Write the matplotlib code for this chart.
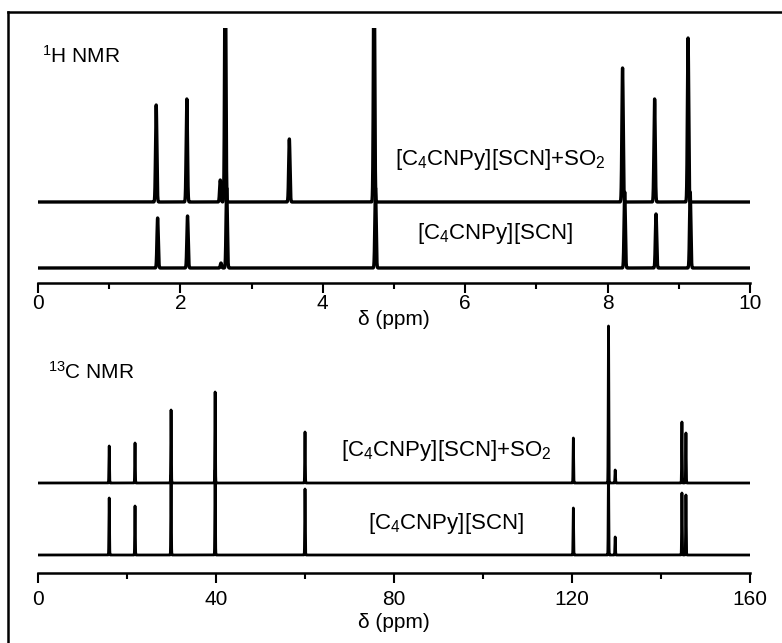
import matplotlib
matplotlib.use("Agg")
import matplotlib.pyplot as plt
from matplotlib.lines import Line2D
import numpy as np

plt.rcParams['font.family'] = ['Liberation Sans', 'DejaVu Sans']
plt.rcParams['mathtext.fontset'] = 'custom'
plt.rcParams['mathtext.rm'] = 'Liberation Sans'
plt.rcParams['mathtext.it'] = 'Liberation Sans'
plt.rcParams['mathtext.default'] = 'regular'

# 1H NMR peak lists (ppm, intensity a.u.)
h_so2_pos = [1.66, 2.09, 2.56, 2.63, 3.53, 4.72, 8.21, 8.66, 9.13]
h_so2_int = [97, 103, 22, 260, 63, 260, 134, 103, 164]
h_ion_pos = [1.68, 2.10, 2.57, 2.65, 4.74, 8.24, 8.68, 9.16]
h_ion_int = [50, 52, 5, 80, 80, 76, 54, 76]

# 13C NMR peak lists
c_so2_pos = [16.0, 21.8, 29.9, 39.8, 60.0, 120.3, 128.2, 129.7, 144.7, 145.6]
c_so2_int = [37, 40, 73, 91, 51, 45, 157, 13, 61, 50]
c_ion_pos = [16.0, 21.8, 29.9, 39.8, 60.0, 120.3, 128.2, 129.7, 144.7, 145.6]
c_ion_int = [57, 49, 80, 85, 66, 47, 85, 18, 62, 60]

label_so2 = '[C$_4$CNPy][SCN]+SO$_2$'
label_ion = '[C$_4$CNPy][SCN]'


def spectrum(x, pos, inten, sig):
    y = np.zeros_like(x)
    for p, a in zip(pos, inten):
        y += a * np.exp(-0.5 * ((x - p) / sig) ** 2)
    return y


fig = plt.figure(figsize=(7.82, 6.43), dpi=100)

# outer frame (left and top edges only are visible)
fx = 8 / 782
fy = 1 - 12 / 643
fig.add_artist(Line2D([fx, fx], [0, fy], color='black', lw=1.8, transform=fig.transFigure))
fig.add_artist(Line2D([fx, 1], [fy, fy], color='black', lw=1.8, transform=fig.transFigure))


def style_axis(ax, xmax, major, minor, pad, labelpad):
    for s in ['left', 'right', 'top']:
        ax.spines[s].set_visible(False)
    ax.spines['bottom'].set_linewidth(1.8)
    ax.set_yticks([])
    ax.set_xlim(0, xmax)
    ax.set_xticks(np.arange(0, xmax + 0.01, major))
    ax.set_xticks(np.arange(minor, xmax, major), minor=True)
    ax.tick_params(axis='x', which='major', direction='out', length=7, width=1.5,
                   labelsize=15, pad=pad)
    ax.tick_params(axis='x', which='minor', direction='out', length=4, width=1.5)
    ax.set_xlabel('δ (ppm)', fontsize=15, labelpad=labelpad)
    ax.patch.set_visible(False)


# 1H panel
ax1 = fig.add_axes([38 / 782, 1 - 283 / 643, 712 / 782, 255 / 643])
xh = np.linspace(0, 10, 20001)
ax1.plot(xh, spectrum(xh, h_so2_pos, h_so2_int, 0.009) + 81, color='black', lw=2.4)
ax1.plot(xh, spectrum(xh, h_ion_pos, h_ion_int, 0.009) + 15, color='black', lw=2.4)
ax1.set_ylim(0, 255)
style_axis(ax1, 10, 2, 1, 1, -2)
ax1.text(6.49, 123, label_so2, ha='center', va='center', fontsize=16)
ax1.text(6.42, 50, label_ion, ha='center', va='center', fontsize=16)
ax1.text(0.05, 227, '$^1$H NMR', ha='left', va='center', fontsize=15)

# 13C panel
ax2 = fig.add_axes([38 / 782, 1 - 573 / 643, 712 / 782, 253 / 643])
xc = np.linspace(0, 160, 40001)
ax2.plot(xc, spectrum(xc, c_so2_pos, c_so2_int, 0.06) + 90, color='black', lw=2)
ax2.plot(xc, spectrum(xc, c_ion_pos, c_ion_int, 0.06) + 18, color='black', lw=2)
ax2.set_ylim(0, 253)
style_axis(ax2, 160, 40, 20, 5, 3)
ax2.text(91.7, 123, label_so2, ha='center', va='center', fontsize=16)
ax2.text(91.6, 50, label_ion, ha='center', va='center', fontsize=16)
ax2.text(2.3, 201, '$^{13}$C NMR', ha='left', va='center', fontsize=15)

fig.savefig('out.png', dpi=100)
